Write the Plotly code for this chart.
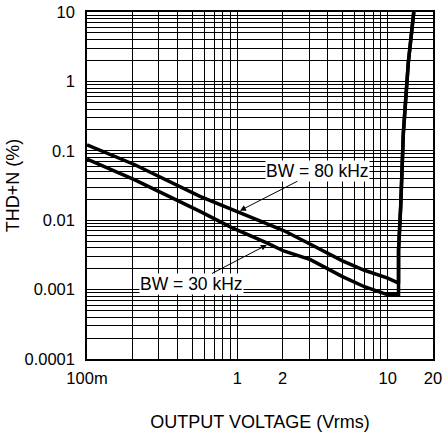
import math
import plotly.graph_objects as go

# ---- data ----
bw80_v = [0.1, 0.208, 0.564, 1.04, 2.03, 3.06, 5.0, 7.0, 10.0, 11.6, 11.8, 11.8, 12.2, 12.7, 13.7, 14.9]
bw80_thd = [0.122, 0.063, 0.022, 0.0127, 0.0071, 0.0045, 0.0026, 0.0019, 0.00146, 0.00126, 0.00128,
            0.0037, 0.016, 0.18, 1.85, 10.0]

bw30_v = [0.1, 0.208, 0.564, 0.91, 1.57, 2.03, 3.06, 5.0, 7.0, 9.0, 10.0, 11.6, 11.8, 11.8, 12.2, 12.7, 13.7, 14.9]
bw30_thd = [0.076, 0.038, 0.0134, 0.0079, 0.0047, 0.0036, 0.0027, 0.00154, 0.0011, 0.00089, 0.00084, 0.00084,
            0.00084, 0.0037, 0.016, 0.18, 1.85, 10.0]

x_tickvals = [0.1, 1, 2, 10, 20]
x_ticktext = ["100m", "1", "2", "10", "20"]
x_minor = [0.2, 0.3, 0.4, 0.5, 0.6, 0.7, 0.8, 0.9, 3, 4, 5, 6, 7, 8, 9]

y_tickvals = [0.0001, 0.001, 0.01, 0.1, 1, 10]
y_ticktext = ["0.0001", "0.001", "0.01", "0.1", "1", "10"]
y_minor = [m * d for d in [0.0001, 0.001, 0.01, 0.1, 1] for m in range(2, 10)]

# annotation arrow tips (V, %THD+N)
label80 = dict(text="BW = 80 kHz", v=1.04, thd=0.0137)
label30 = dict(text="BW = 30 kHz", v=1.57, thd=0.0044)

FONT = "Liberation Sans, Arial, sans-serif"

fig = go.Figure()
fig.add_trace(go.Scatter(x=bw80_v, y=bw80_thd, mode="lines", name="BW = 80 kHz",
                         line=dict(color="black", width=3.5)))
fig.add_trace(go.Scatter(x=bw30_v, y=bw30_thd, mode="lines", name="BW = 30 kHz",
                         line=dict(color="black", width=3.5)))

for lab, ax, ay in [(label80, 78, -40), (label30, -75, 39)]:
    fig.add_annotation(x=math.log10(lab["v"]), y=math.log10(lab["thd"]), xref="x", yref="y",
                       text=lab["text"], showarrow=True, arrowhead=2, arrowsize=1.2,
                       arrowwidth=1, arrowcolor="black", ax=ax, ay=ay, bgcolor="white",
                       borderpad=0, font=dict(family=FONT, size=17.5, color="black"))

fig.update_layout(
    width=446, height=433,
    margin=dict(l=87, r=13, t=12, b=74),
    paper_bgcolor="white", plot_bgcolor="white",
    showlegend=False,
    font=dict(family=FONT, size=16.5, color="black"),
)
fig.update_xaxes(
    type="log", range=[-1, 1.30103], automargin=False,
    tickvals=x_tickvals, ticktext=x_ticktext, ticks="", ticklabelstandoff=3,
    showgrid=True, gridcolor="black", gridwidth=1,
    minor=dict(tickvals=x_minor, showgrid=True, gridcolor="black", gridwidth=1, ticks=""),
    showline=True, mirror=True, linecolor="black", linewidth=1.5,
    zeroline=False,
    title=dict(text="OUTPUT VOLTAGE (Vrms)", standoff=30, font=dict(size=18)),
)
fig.update_yaxes(
    type="log", range=[-4, 1], automargin=False,
    tickvals=y_tickvals, ticktext=y_ticktext, ticks="", ticklabelstandoff=7,
    showgrid=True, gridcolor="black", gridwidth=1,
    minor=dict(tickvals=y_minor, showgrid=True, gridcolor="black", gridwidth=1, ticks=""),
    showline=True, mirror=True, linecolor="black", linewidth=1.5,
    zeroline=False,
    title=dict(text="THD+N (%)", standoff=0, font=dict(size=18)),
)

fig.write_html("out.html", config={"displayModeBar": False},
               post_script="document.body.style.margin='0';")
